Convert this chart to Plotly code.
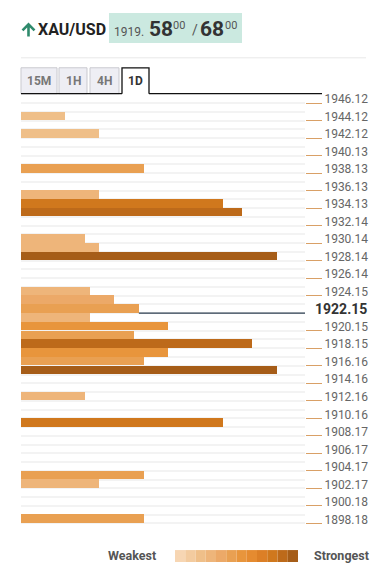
import plotly.graph_objects as go

# ---------------- data ----------------
axis_labels = ["1946.12", "1944.12", "1942.12", "1940.13", "1938.13", "1936.13",
               "1934.13", "1932.14", "1930.14", "1928.14", "1926.14", "1924.15",
               "1922.15", "1920.15", "1918.15", "1916.16", "1914.16", "1912.16",
               "1910.16", "1908.17", "1906.17", "1904.17", "1902.17", "1900.18",
               "1898.18"]
top_level = 1946.12
bottom_level = 1898.18
n_rows = 50  # price rows shown (one level per row)

bar_levels = [1944.12, 1942.12, 1938.13, 1935.13, 1934.13, 1933.14, 1930.14,
              1929.14, 1928.14, 1924.15, 1923.15, 1922.15, 1921.15, 1920.15,
              1919.15, 1918.15, 1917.16, 1916.16, 1915.16, 1912.16, 1909.17,
              1903.17, 1902.17, 1898.18]
bar_strength = [15.5, 27.5, 43.3, 27.5, 71.1, 77.8, 22.5,
                27.5, 90.1, 24.3, 32.7, 41.5, 24.3, 51.8,
                39.8, 81.3, 51.8, 43.3, 90.1, 22.5, 71.1,
                43.3, 27.5, 43.3]
bar_grade = [2, 2, 5, 3, 9, 10, 3,
             3, 11, 3, 4, 5, 3, 6,
             5, 10, 6, 5, 11, 3, 9,
             5, 3, 5]
palette = ["#f7d6b3", "#f3cb9f", "#efbf89", "#eeb57a", "#eca968", "#e9a052",
           "#e8953c", "#e58b30", "#dc7f26", "#d0781d", "#bd6a1a", "#a65d18"]

current_level = 1922.15
symbol = "XAU/USD"
bid_int, bid_dec, bid_tail = "1919.", "58", "00"
ask_dec, ask_tail = "68", "00"
tabs = ["15M", "1H", "4H", "1D"]
active_tab = "1D"

# ---------------- geometry helpers ----------------
PAGE_MARGIN = 8          # default body margin of the html page
W, H = 379 - 2 * PAGE_MARGIN, 576 - 2 * PAGE_MARGIN
def px(x):
    return (x - PAGE_MARGIN) / W
def py(y):
    return 1 - (y - PAGE_MARGIN) / H

step = (top_level - bottom_level) / (len(axis_labels) - 1) / 2
y_top = top_level + step / 2
y_bot = top_level - (n_rows - 0.5) * step
boundaries = [top_level - (k + 0.5) * step for k in range(n_rows)]
label_vals = [float(s) for s in axis_labels]
tickvals = [v - step / 2 for v in label_vals if abs(v - current_level) > 1e-6]
ticktext = [s for s, v in zip(axis_labels, label_vals) if abs(v - current_level) > 1e-6]

plot_x0, plot_x1 = 21, 305
plot_w = plot_x1 - plot_x0
row_px = (532 - 92.6) / n_rows
shift_px = -int(round(row_px / 2))

fig = go.Figure()

fig.add_trace(go.Bar(
    orientation="h", x=bar_strength, y=bar_levels, width=step * 0.98,
    marker=dict(color=[palette[g] for g in bar_grade], line=dict(width=0)),
    hoverinfo="skip", showlegend=False))

# current price line
cur_strength = bar_strength[bar_levels.index(current_level)]
line_y = current_level - step / 2
fig.add_trace(go.Scatter(
    x=[cur_strength, 100 * (1 + 8 / plot_w)], y=[line_y, line_y], mode="lines",
    line=dict(color="#2c3e50", width=1.2), cliponaxis=False,
    hoverinfo="skip", showlegend=False))
fig.add_trace(go.Scatter(
    x=[100 * (1 + 0.5 / plot_w)], y=[line_y], mode="markers",
    marker=dict(symbol="triangle-left", size=8, color="#2c3e50"),
    cliponaxis=False, hoverinfo="skip", showlegend=False))

font_family = "Roboto, Noto Sans, DejaVu Sans"

fig.update_layout(
    width=W, height=H, margin=dict(l=0, r=0, t=0, b=0),
    paper_bgcolor="white", plot_bgcolor="white",
    font=dict(family=font_family),
    bargap=0,
    xaxis=dict(domain=[px(plot_x0), px(plot_x1)], range=[0, 100], visible=False,
               fixedrange=True),
    yaxis=dict(domain=[py(532), py(92.6)], range=[y_bot, y_top], side="right",
               tickmode="array", tickvals=tickvals, ticktext=ticktext,
               ticks="outside", ticklen=16, tickcolor="#d9a066", tickwidth=1,
               ticklabelshift=shift_px,
               tickfont=dict(size=12, color="#666", family=font_family),
               showgrid=True, gridcolor="#f3f3f3", gridwidth=2,
               minor=dict(tickmode="array", tickvals=boundaries, showgrid=True,
                          gridcolor="#f3f3f3", gridwidth=2, ticks=""),
               zeroline=False, showline=False, fixedrange=True),
)

shapes = []
annotations = []

# header: up arrow icon
shapes.append(dict(type="path", xref="paper", yref="paper",
                   path=(f"M{px(22.5)},{py(28.5)} L{px(28.5)},{py(22.5)} L{px(34.5)},{py(28.5)} "
                         f"M{px(28.5)},{py(23)} L{px(28.5)},{py(34.5)}"),
                   line=dict(color="#2f8a6c", width=2.6)))
annotations.append(dict(x=px(36), y=py(27.5), xref="paper", yref="paper", text=f"<b>{symbol}</b>",
                        showarrow=False, xanchor="left", yanchor="middle",
                        font=dict(size=16, color="#222")))
shapes.append(dict(type="rect", xref="paper", yref="paper", x0=px(109), x1=px(242),
                   y0=py(41), y1=py(11), fillcolor="#cbe9e0", line=dict(width=0), layer="below"))
for txt, x, yc, size, col, bold in [
        (bid_int, 112, 29.8, 12, "#555", False),
        (bid_dec, 147, 27.0, 21, "#333", True),
        (bid_tail, 171, 23.5, 11, "#555", False),
        ("/", 190, 28.5, 14, "#555", False),
        (ask_dec, 198, 27.0, 21, "#333", True),
        (ask_tail, 223, 23.5, 11, "#555", False)]:
    annotations.append(dict(x=px(x), y=py(yc), xref="paper", yref="paper",
                            text=f"<b>{txt}</b>" if bold else txt, showarrow=False,
                            xanchor="left", yanchor="middle", font=dict(size=size, color=col)))

# separator
shapes.append(dict(type="line", xref="paper", yref="paper", x0=px(21), x1=px(366),
                   y0=py(56), y1=py(56), line=dict(color="#e8e8e8", width=1)))

# tabs
tab_x = [(21, 57), (59, 87), (90, 119), (122, 149)]
for name, (a, b) in zip(tabs, tab_x):
    if name == active_tab:
        shapes.append(dict(type="rect", xref="paper", yref="paper", x0=px(a), x1=px(b),
                           y0=py(92), y1=py(66), fillcolor="white", line=dict(width=0)))
        shapes.append(dict(type="path", xref="paper", yref="paper",
                           path=f"M{px(a)},{py(92)} L{px(a)},{py(66)} L{px(b)},{py(66)} L{px(b)},{py(92)}",
                           line=dict(color="#111", width=1.3)))
        col = "#333"
    else:
        shapes.append(dict(type="rect", xref="paper", yref="paper", x0=px(a), x1=px(b),
                           y0=py(92), y1=py(66), fillcolor="#eeeef4",
                           line=dict(color="#c9c9cf", width=1)))
        col = "#777"
    annotations.append(dict(x=px((a + b) / 2), y=py(79.5), xref="paper", yref="paper",
                            text=f"<b>{name}</b>", showarrow=False, xanchor="center",
                            yanchor="middle", font=dict(size=12, color=col)))
shapes.append(dict(type="line", xref="paper", yref="paper", x0=px(21), x1=px(122),
                   y0=py(92), y1=py(92), line=dict(color="#111", width=1.3)))
shapes.append(dict(type="line", xref="paper", yref="paper", x0=px(149), x1=px(322),
                   y0=py(92), y1=py(92), line=dict(color="#111", width=1.3)))

# current level label
annotations.append(dict(x=px(313), y=current_level, xref="paper", yref="y",
                        text=f"<b>{current_level:.2f}</b>", showarrow=False,
                        xanchor="left", yanchor="middle", font=dict(size=14, color="#333")))

# strength legend
annotations.append(dict(x=px(158), y=py(555.5), xref="paper", yref="paper", text="<b>Weakest</b>",
                        showarrow=False, xanchor="right", yanchor="middle",
                        font=dict(size=12.5, color="#555")))
annotations.append(dict(x=px(312), y=py(555.5), xref="paper", yref="paper", text="<b>Strongest</b>",
                        showarrow=False, xanchor="left", yanchor="middle",
                        font=dict(size=12.5, color="#555")))
sq0, sq1 = 175, 298
sw = (sq1 - sq0) / len(palette)
for i, c in enumerate(palette):
    shapes.append(dict(type="rect", xref="paper", yref="paper",
                       x0=px(sq0 + i * sw), x1=px(sq0 + (i + 1) * sw),
                       y0=py(562), y1=py(550), fillcolor=c, line=dict(width=0)))

fig.update_layout(shapes=shapes, annotations=annotations)
fig.write_html("out.html")
